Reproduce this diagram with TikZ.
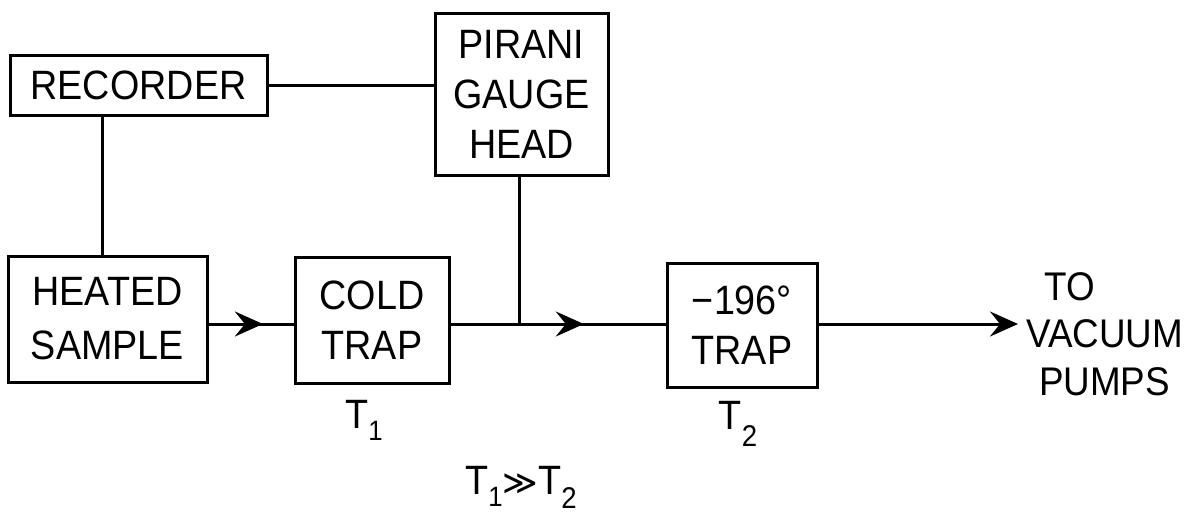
\documentclass[tikz,border=0pt]{standalone}
\usepackage{fontspec}
\setmainfont{Liberation Sans}[FakeStretch=0.92]
\newfontfamily\symfont{DejaVu Sans}
\usetikzlibrary{arrows.meta,decorations.markings}
\tikzset{
  blk/.style={draw, line width=3pt, inner sep=0pt, align=center,
    font=\fontsize{41}{50}\selectfont},
  wire/.style={line width=3pt},
  barb/.style={-{Stealth[length=28pt,width=25pt,inset=10pt]}},
  midbarb/.style={postaction={decorate},
    decoration={markings, mark=at position #1 with {\arrow{Stealth[length=28pt,width=25pt,inset=10pt]}}}},
  lbl/.style={inner sep=0pt, font=\fontsize{41}{48}\selectfont}
}
\begin{document}
\begin{tikzpicture}[x=1pt,y=-1pt]
\useasboundingbox (0,0) rectangle (1195,514);
\node[blk, minimum width=257pt, minimum height=60pt] (rec) at (138.5,85) {RECORDER};
\node[blk, minimum width=173pt, minimum height=162pt] (pir) at (521.5,94) {PIRANI\\GAUGE\\HEAD};
\node[blk, minimum width=199pt, minimum height=126pt, font=\fontsize{41}{54}\selectfont] (heat) at (107.5,319) {HEATED\\SAMPLE};
\node[blk, minimum width=154pt, minimum height=126pt] (cold) at (372,320) {COLD\\TRAP};
\node[blk, minimum width=150pt, minimum height=124pt] (trap) at (742,325) {−196°\\TRAP};
\coordinate (ml) at (0,324);
\node[lbl, anchor=west, align=left, font=\fontsize{40}{47.5}\selectfont] (pumps) at (1026,334) {\hspace*{18pt}TO\\VACUUM\\\hspace*{13pt}PUMPS};
\coordinate (pend) at (1018,324);
\node[lbl] (t1) at (364,420) {T\raisebox{-12pt}{\fontsize{28}{28}\selectfont 1}};
\node[lbl] (t2) at (738,424) {T\raisebox{-17pt}{\fontsize{30}{30}\selectfont 2}};
\node[lbl] (trel) at (521,487) {T\raisebox{-12pt}{\fontsize{28}{28}\selectfont 1}{\symfont\fontsize{34}{34}\selectfont ≫}T\raisebox{-14pt}{\fontsize{30}{30}\selectfont 2}};
% connectors
\draw[wire] (rec.east) -- (rec.east -| pir.west);
\draw[wire] ([xshift=-5pt]heat.north) -- ([xshift=-5pt]heat.north |- rec.south);
\draw[wire] ([xshift=-2pt]pir.south) -- ([xshift=-2pt]pir.south |- ml);
\draw[wire, midbarb=0.64] (heat.east |- ml) -- (cold.west |- ml);
\draw[wire, midbarb=0.62] (cold.east |- ml) -- (trap.west |- ml);
\draw[wire, barb] (trap.east |- ml) -- (pend);
\end{tikzpicture}
\end{document}
